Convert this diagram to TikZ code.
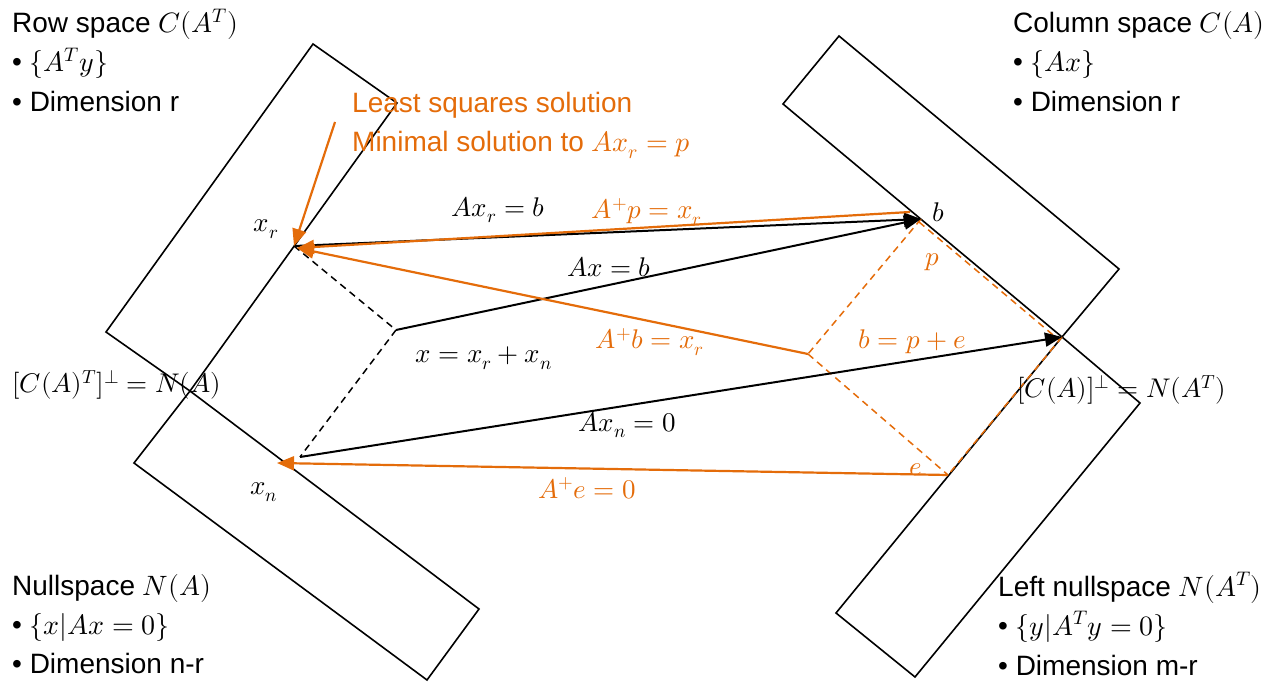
\documentclass[tikz,border=0pt]{standalone}
\usepackage{fontspec}
\usepackage{unicode-math}
\setmainfont{Liberation Sans}
\setmathfont{Latin Modern Math}
\usetikzlibrary{arrows.meta}
\definecolor{orng}{HTML}{E46C0A}
\begin{document}
\begin{tikzpicture}[x=1pt,y=-1pt,
  edge/.style={line width=1.6pt, line join=miter},
  blkarrow/.style={line width=2pt, -{Triangle[length=17pt,width=14pt]}},
  orgarrow/.style={orng, line width=2.2pt, -{Triangle[length=17pt,width=14pt]}},
  blkdash/.style={line width=1.5pt, dash pattern=on 7pt off 5pt},
  orgdash/.style={orng, line width=1.5pt, dash pattern=on 7pt off 5pt},
  txt/.style={font=\fontsize{28}{32}\selectfont, inner sep=0pt, anchor=base west},
  lbl/.style={font=\fontsize{27}{30}\selectfont, inner sep=0pt}]
\useasboundingbox (0,0) rectangle (1287,684);

% subspaces
\draw[edge] (313,44) -- (397,103) -- (190,391) -- (106,332) -- cycle;
\draw[edge] (190,391) -- (479,609) -- (427,680) -- (134,463) -- cycle;
\draw[edge] (839,36) -- (1119,269) -- (1062,337) -- (783,104) -- cycle;
\draw[edge] (1062,337) -- (1140,403) -- (915,677) -- (836,613) -- cycle;

% points
\coordinate (xr) at (294,246);
\coordinate (xro) at (297,248);
\coordinate (x) at (396,330);
\coordinate (xn) at (300,457);
\coordinate (xnt) at (277,463);
\coordinate (b) at (921,219);
\coordinate (O) at (1062,337);
\coordinate (bb) at (808,354);
\coordinate (e) at (948,475);
\coordinate (ps) at (910,212);
\coordinate (ls) at (335,122);
\coordinate (bo) at (919,222);
\coordinate (Oo) at (1059,340);

% orange dashed parallelogram b = p + e
\draw[orgdash] (b) -- (bb);
\draw[orgdash] (bb) -- (e);
\draw[orgdash] (bo) -- (Oo);
\draw[orgdash] (O) -- (e);

% black dashed decomposition
\draw[blkdash] (xr) -- (x);
\draw[blkdash] (x) -- (xn);

% black arrows
\draw[blkarrow] (xr) -- (b);
\draw[blkarrow] (x) -- (b);
\draw[blkarrow] (xn) -- (O);

% orange arrows
\draw[orgarrow] (ps) -- (xro);
\draw[orgarrow] (bb) -- (xro);
\draw[orgarrow] (e) -- (xnt);
\draw[orgarrow] (ls) -- (xr);

% corner texts
\node[txt] (rs1) at (12,33) {Row space $C(A^T)$};
\node[txt] (rs2) at (12,72) {• $\{A^T y\}$};
\node[txt] (rs3) at (12,112) {• Dimension r};
\node[txt] (cs1) at (1013,33) {Column space $C(A)$};
\node[txt] (cs2) at (1013,72) {• $\{Ax\}$};
\node[txt] (cs3) at (1013,112) {• Dimension r};
\node[txt] (ns1) at (12,595) {Nullspace $N(A)$};
\node[txt] (ns2) at (12,634) {• $\{x|Ax=0\}$};
\node[txt] (ns3) at (12,673) {• Dimension n-r};
\node[txt] (ln1) at (998,596) {Left nullspace $N(A^T)$};
\node[txt] (ln2) at (998,635) {• $\{y|A^T y=0\}$};
\node[txt] (ln3) at (998,675) {• Dimension m-r};
\node[txt, text=orng] (ls1) at (352,113) {Least squares solution};
\node[txt, text=orng] (ls2) at (352,152) {Minimal solution to $Ax_r=p$};

% math labels
\node[lbl] (lxr) at (266,229) {$x_r$};
\node[lbl] (lxn) at (264,492) {$x_n$};
\node[lbl] (laxr) at (498,210) {$Ax_r=b$};
\node[lbl, text=orng] (lapp) at (647,212) {$A^{+}p=x_r$};
\node[lbl] (lb) at (938,212) {$b$};
\node[lbl, text=orng] (lp) at (932,262) {$p$};
\node[lbl] (lax) at (609,267) {$Ax=b$};
\node[lbl, text=orng] (lapb) at (650,342) {$A^{+}b=x_r$};
\node[lbl, text=orng] (lbpe) at (912,342) {$b=p+e$};
\node[lbl] (lx) at (484,358) {$x=x_r+x_n$};
\node[lbl, anchor=west] (lcat) at (12,385) {$[C(A)^T]^{\perp}=N(A)$};
\node[lbl, anchor=west] (lca) at (1017,390) {$[C(A)]^{\perp}=N(A^T)$};
\node[lbl] (laxn) at (627,425) {$Ax_n=0$};
\node[lbl, text=orng] (le) at (916,470) {$e$};
\node[lbl, text=orng] (lape) at (587,488) {$A^{+}e=0$};
\end{tikzpicture}
\end{document}
